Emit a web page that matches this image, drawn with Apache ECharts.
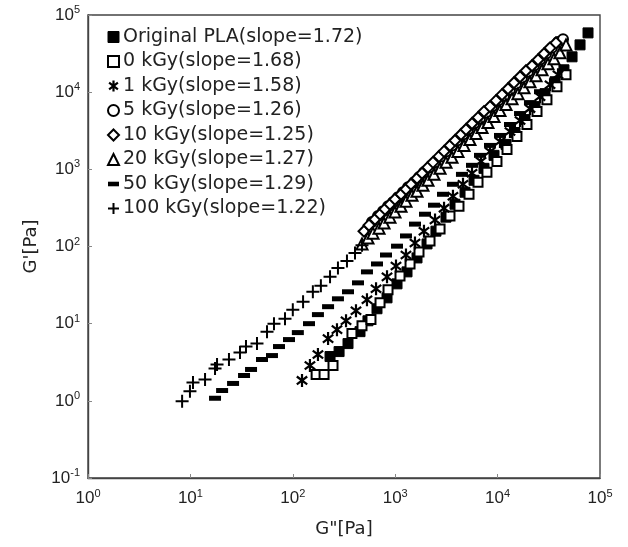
<!DOCTYPE html>
<html>
<head>
<meta charset="utf-8">
<script src="https://cdn.jsdelivr.net/npm/echarts@6/dist/echarts.min.js"></script>
<style>
html,body{margin:0;padding:0;background:#fff;}
#chart{width:628px;height:547px;}
</style>
</head>
<body>
<div id="chart"></div>
<script>
// ---------------- DATA (G'' [Pa] , G' [Pa]) ----------------
const seriesNames = [
  "Original PLA(slope=1.72)",
  "0 kGy(slope=1.68)",
  "1 kGy(slope=1.58)",
  "5 kGy(slope=1.26)",
  "10 kGy(slope=1.25)",
  "20 kGy(slope=1.27)",
  "50 kGy(slope=1.29)",
  "100 kGy(slope=1.22)"
];

const plaGpp = [231,283,346,453,542,664,832,1042,1304,1633,2046,2500,3133,3837,4808,5888,7362,9226,12080,14790,18530,23170,29040,36390,44460,53330,63830,76380];
const plaGp  = [3.75,4.35,5.52,7.88,10.9,15.6,21.6,32.8,46.9,71.1,108,158,240,353,505,721,1030,1517,2104,3000,4413,6500,9572,13650,19500,28710,41020,58610];

const k0Gpp = [169,202,247,378,474,580,711,851,1114,1396,1708,2188,2742,3428,4198,5260,6438,7870,9862,12360,15460,19360,24270,30340,38020,46560];
const k0Gp  = [2.20,2.20,2.87,7.43,9.42,11.3,18.7,27.5,41.6,59.4,84.9,118,168,248,333,475,680,915,1268,1811,2667,3811,5604,8003,11770,16830];

const k1Gpp = [123,147,176,221,270,331,414,530,650,832,1018,1274,1560,1910,2449,2999,3664,4592,5623,6887,8433,10550,13210,16560,20700,25940,32510,38900];
const k1Gp  = [1.84,2.87,3.98,6.40,8.37,10.9,14.7,20.4,28.3,40.4,56.0,77.6,111,158,220,314,449,640,888,1268,1707,2296,3090,4285,6124,8750,12500,16830];

const k5Gpp = [593,679,760,851,952,1065,1191,1334,1527,1708,1910,2188,2449,2800,3133,3589,4016,4592,5140,5888,6731,7709,8817,10090,11560,13210,15140,17300,19820,22650,25940,29720,33960,38900,43550];
const k5Gp  = [207,248,287,333,375,435,505,586,680,789,915,1061,1231,1471,1707,2041,2368,2831,3284,3926,4552,5438,6500,7768,9016,10770,12870,15380,18390,21980,26260,31400,37520,44840,48500];

const k10Gpp = [496,555,635,711,795,889,995,1140,1274,1426,1633,1828,2089,2339,2679,2999,3428,3837,4395,4914,5623,6438,7362,8433,9645,11040,12640,14450,16560,18930,21680,24830,28380,32510,37150];
const k10Gp  = [158,189,226,262,305,353,410,475,552,640,765,888,1061,1231,1471,1707,2041,2368,2831,3284,3926,4690,5604,6500,7768,9285,11100,13270,15850,18930,21980,26260,31400,37520,43550];

const k20Gpp = [474,542,607,695,778,889,995,1140,1274,1459,1633,1866,2089,2393,2742,3133,3589,4102,4699,5370,6152,7047,8054,9226,10550,12080,13830,15810,18110,20700,23710,27160,31050,35560,40640,46560];
const k20Gp  = [108,129,149,173,201,240,279,333,387,462,520,622,721,861,1030,1231,1429,1707,2041,2438,2917,3483,4036,4831,5768,6902,8241,9572,11430,13650,16330,19500,23330,27040,32360,41000];

const k50Gpp = [17.4,20.4,26.1,33.4,39.1,50.0,62.6,73.3,91.8,112,144,176,221,276,346,433,530,664,813,1042,1274,1560,1954,2393,2931,3664,4487,5623,6731,8433,10550,13210,16560,20700,25940];
const k50Gp  = [1.08,1.36,1.68,2.13,2.55,3.43,3.86,5.05,6.22,7.66,10.0,13.1,16.6,21.0,25.9,33.8,46.9,59.4,77.6,101,137,195,262,343,475,640,861,1127,1517,2041,2748,3811,5284,7328,10140];

const k100Gpp = [8.3,9.9,10.6,13.9,17.4,18.2,23.8,30.5,34.9,44.7,56.0,65.5,83.9,100,126,157,188,231,276,338,405,474];
const k100Gp  = [0.99,1.33,1.73,1.89,2.63,2.96,3.43,4.22,5.05,5.52,7.88,10.0,11.6,15.2,19.2,25.9,30.9,40.4,52.8,65.0,82.4,104];

// ---------------- CHART ----------------
function pairs(xs, ys){ return xs.map((x,i)=>[x, ys[i]]); }

const FONT = "'DejaVu Sans', 'Liberation Sans', Arial, sans-serif";
const TICKFONT = "'Liberation Sans', Arial, sans-serif";
const BLACK = '#000';

const asteriskPath = 'path://M10,0L10,20M2,4L18,16M2,16L18,4';
const plusPath = 'path://M10,0L10,20M0,10L20,10';
const dashPath = 'path://M0,0L12,0L12,5L0,5Z';

const styles = [
  {symbol:'rect', size:10, itemStyle:{color:BLACK, borderColor:BLACK, borderWidth:1}, icon:'rect'},
  {symbol:'rect', size:9, itemStyle:{color:'#fff', borderColor:BLACK, borderWidth:2}, icon:'rect'},
  {symbol:asteriskPath, size:13, itemStyle:{color:'rgba(0,0,0,0)', borderColor:BLACK, borderWidth:2.2}, icon:asteriskPath},
  {symbol:'circle', size:10, itemStyle:{color:'#fff', borderColor:BLACK, borderWidth:2}, icon:'circle'},
  {symbol:'diamond', size:11, itemStyle:{color:'#fff', borderColor:BLACK, borderWidth:2}, icon:'diamond'},
  {symbol:'triangle', size:11, itemStyle:{color:'#fff', borderColor:BLACK, borderWidth:2}, icon:'triangle'},
  {symbol:'rect', size:[12,5], itemStyle:{color:BLACK, borderColor:BLACK, borderWidth:0}, icon:dashPath},
  {symbol:plusPath, size:13, itemStyle:{color:'rgba(0,0,0,0)', borderColor:BLACK, borderWidth:2}, icon:plusPath}
];

const dataSets = [
  pairs(plaGpp, plaGp), pairs(k0Gpp, k0Gp), pairs(k1Gpp, k1Gp),
  pairs(k5Gpp, k5Gp), pairs(k10Gpp, k10Gp), pairs(k20Gpp, k20Gp),
  pairs(k50Gpp, k50Gp), pairs(k100Gpp, k100Gp)
];

const series = seriesNames.map((name, i) => ({
  name: name,
  type: 'scatter',
  data: dataSets[i],
  symbol: styles[i].symbol,
  symbolSize: styles[i].size,
  symbolKeepAspect: styles[i].symbol !== 'rect',
  itemStyle: Object.assign({opacity:1}, styles[i].itemStyle),
  emphasis: {disabled: true},
  silent: true,
  z: 2 + i
}));

function expLabel(v){
  const e = Math.round(Math.log10(v));
  return '{b|10}{s|' + e + '}';
}
const richLabels = {
  b: {fontSize: 17, fontFamily: TICKFONT, color: '#222'},
  s: {fontSize: 11, fontFamily: TICKFONT, color: '#222', padding: [0,0,10,0]}
};

const chart = echarts.init(document.getElementById('chart'), null, {renderer:'canvas'});
chart.setOption({
  animation: false,
  backgroundColor: '#fff',
  grid: {left: 88, right: 28, top: 15, bottom: 69, show: true, borderColor: '#444', borderWidth: 1.4, backgroundColor:'transparent'},
  legend: {
    orient: 'vertical',
    left: 102,
    top: 22,
    itemWidth: 11,
    itemHeight: 11,
    itemGap: 4.5,
    symbolKeepAspect: true,
    selectedMode: false,
    data: seriesNames.map((n,i) => ({name: n, icon: styles[i].icon, itemStyle: styles[i].itemStyle})),
    textStyle: {fontSize: 19, fontFamily: FONT, color: '#222', lineHeight: 20, padding: [0,0,0,-1]}
  },
  xAxis: {
    type: 'log',
    logBase: 10,
    min: 1,
    max: 100000,
    splitNumber: 5,
    name: 'G"[Pa]',
    nameLocation: 'middle',
    nameGap: 42,
    nameTextStyle: {fontSize: 18, fontFamily: FONT, color: '#222'},
    axisLine: {show: true, lineStyle: {color: '#444', width: 1.4}},
    axisTick: {show: true, inside: true, length: 4, lineStyle: {color: '#888'}},
    minorTick: {show: false},
    splitLine: {show: false},
    axisLabel: {formatter: expLabel, rich: richLabels, margin: 10}
  },
  yAxis: {
    type: 'log',
    logBase: 10,
    min: 0.1,
    max: 100000,
    splitNumber: 6,
    name: "G'[Pa]",
    nameLocation: 'middle',
    nameGap: 46,
    nameRotate: 90,
    nameTextStyle: {fontSize: 18, fontFamily: FONT, color: '#222'},
    axisLine: {show: true, lineStyle: {color: '#444', width: 1.4}},
    axisTick: {show: true, inside: true, length: 4, lineStyle: {color: '#888'}},
    splitLine: {show: false},
    axisLabel: {formatter: expLabel, rich: richLabels, margin: 8}
  },
  series: series
});
</script>
</body>
</html>
